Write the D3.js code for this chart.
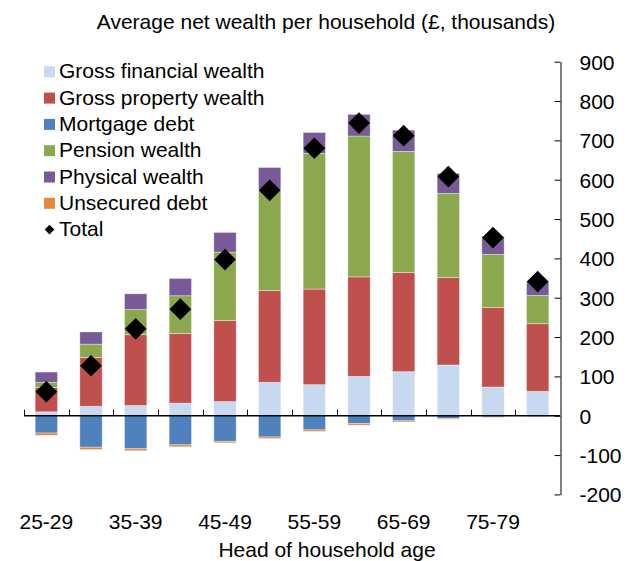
<!DOCTYPE html>
<html><head><meta charset="utf-8">
<script src="https://cdn.jsdelivr.net/npm/d3@7"></script>
<style>
html,body{margin:0;padding:0;background:#fff;}
text{font-family:"Liberation Sans",Arial,sans-serif;fill:#000;}
</style></head>
<body><svg id="c" width="637" height="561"></svg>
<script>
const categories = ["25-29","30-34","35-39","40-44","45-49","50-54","55-59","60-64","65-69","70-74","75-79","80+"];
const grossFinancial = [10, 24, 26, 32, 36, 85, 79, 100, 112, 129, 73, 62];
const grossProperty  = [62, 124, 180, 177, 206, 233, 243, 253, 252, 222, 202, 172];
const pension        = [13, 34, 64, 96, 174, 257, 345, 358, 308, 214, 135, 72];
const physical       = [26, 31, 40, 44, 50, 56, 53, 55, 54, 51, 45, 35];
const mortgage       = [-44, -80, -84, -74, -65, -54, -36, -20, -13, -7, -3, -1];
const unsecured      = [-6, -6, -5, -5, -4, -4, -4, -4, -3, -2, -1, -1];
const total          = [61, 127, 221, 271, 397, 573, 680, 744, 712, 608, 453, 341];
const yTicks = [-200,-100,0,100,200,300,400,500,600,700,800,900];
const seriesNames = ["Gross financial wealth","Gross property wealth","Mortgage debt","Pension wealth","Physical wealth","Unsecured debt"];
const colors = ["#C6D9F1","#C0504D","#4F81BD","#8CA84F","#775A96","#E2893B"];

const svg = d3.select("#c");
const x = d3.scaleBand().domain(categories).range([24, 560]).paddingInner(0.5).paddingOuter(0.25);
const y = d3.scaleLinear().domain([-200, 900]).range([494.4, 61.7]);

const positives = [grossFinancial, grossProperty, pension, physical];
const posIdx = [0,1,3,4];
const negatives = [mortgage, unsecured];
const negIdx = [2,5];
const g = svg.append("g");
categories.forEach((c, i) => {
  let acc = 0;
  positives.forEach((s, k) => {
    const v = s[i];
    g.append("rect").attr("x", x(c)).attr("width", x.bandwidth())
      .attr("y", y(acc + v)).attr("height", y(acc) - y(acc + v))
      .attr("fill", colors[posIdx[k]])
      .attr("stroke", "rgba(255,255,255,0.45)").attr("stroke-width", 0.8);
    acc += v;
  });
  let nacc = 0;
  negatives.forEach((s, k) => {
    const v = s[i];
    g.append("rect").attr("x", x(c)).attr("width", x.bandwidth())
      .attr("y", y(nacc)).attr("height", y(nacc + v) - y(nacc))
      .attr("fill", colors[negIdx[k]])
      .attr("stroke", "rgba(255,255,255,0.45)").attr("stroke-width", 0.8);
    nacc += v;
  });
});

const step = x.step();
const x0 = x.range()[0];
svg.append("line").attr("x1", x0).attr("x2", 560).attr("y1", y(0)).attr("y2", y(0))
  .attr("stroke", "#000").attr("stroke-width", 1.3);
d3.range(categories.length).forEach(i => {
  const bx = Math.round(x0 + step * i) + 0.5;
  svg.append("line").attr("x1", bx).attr("x2", bx).attr("y1", y(0)).attr("y2", y(0) - 6)
    .attr("stroke", "#000").attr("stroke-width", 1);
});

const diamond = d3.symbol().type(d3.symbolDiamond2).size(300);
categories.forEach((c, i) => {
  svg.append("path").attr("d", diamond)
    .attr("transform", `translate(${x(c) + x.bandwidth()/2},${y(total[i])})`)
    .attr("fill", "#000");
});

const yAxis = d3.axisRight(y).tickValues(yTicks).tickSizeInner(-6).tickSizeOuter(0).tickPadding(19).tickFormat(d => String(d));
const ya = svg.append("g").attr("transform", "translate(560.5,0)").call(yAxis);
ya.select(".domain").attr("stroke", "#000").attr("stroke-width", 1);
ya.selectAll(".tick line").attr("stroke", "#000");
ya.selectAll("text").attr("font-size", 21).attr("font-family", '"Liberation Sans",Arial,sans-serif').attr("dy", "0.36em");

const xAxis = d3.axisBottom(x).tickSize(0).tickPadding(0).tickFormat((d, i) => i % 2 === 0 ? d : "");
const xa = svg.append("g").attr("transform", "translate(0,529)").call(xAxis);
xa.select(".domain").remove();
xa.selectAll("text").attr("font-size", 21).attr("font-family", '"Liberation Sans",Arial,sans-serif').attr("dy", 0);

svg.append("text").attr("x", 326).attr("y", 29).attr("text-anchor", "middle").attr("font-size", 21)
  .text("Average net wealth per household (£, thousands)");
svg.append("text").attr("x", 327).attr("y", 557).attr("text-anchor", "middle").attr("font-size", 21)
  .text("Head of household age");

const leg = svg.append("g");
const legItems = seriesNames.concat(["Total"]);
legItems.forEach((name, i) => {
  const by = 78.3 + i * 26.3;
  if (i < 6) {
    leg.append("rect").attr("x", 44).attr("y", by - 12).attr("width", 11).attr("height", 11).attr("fill", colors[i]);
  } else {
    leg.append("path").attr("d", d3.symbol().type(d3.symbolDiamond2).size(60))
      .attr("transform", `translate(49.5,${by - 6.5})`).attr("fill", "#000");
  }
  leg.append("text").attr("x", 59).attr("y", by).attr("font-size", 21).text(name);
});
</script></body></html>
